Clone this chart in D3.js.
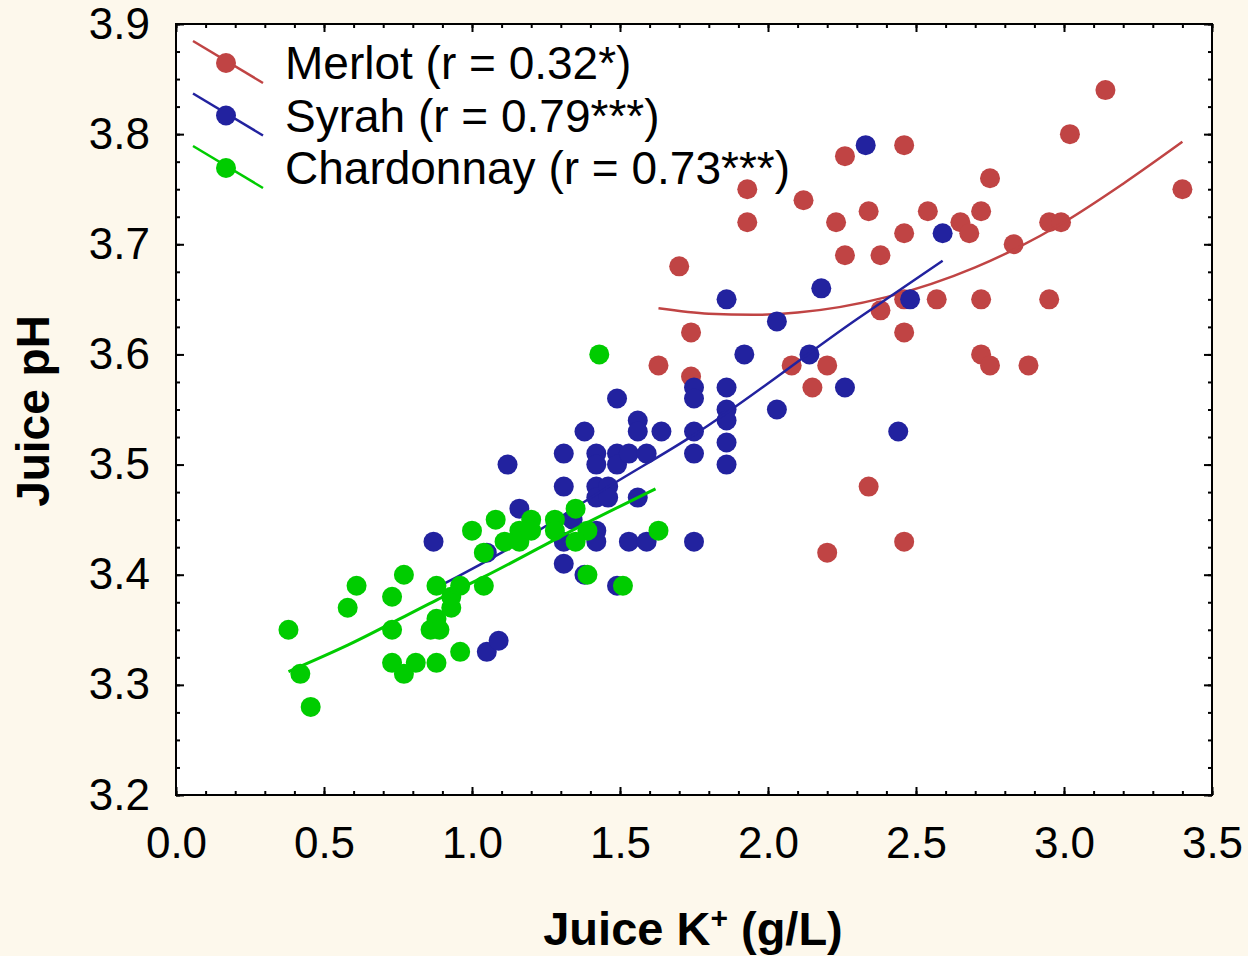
<!DOCTYPE html>
<html>
<head>
<meta charset="utf-8">
<script src="https://cdn.jsdelivr.net/npm/d3@7/dist/d3.min.js"></script>
<style>
  html, body { margin: 0; padding: 0; background: #fdf8ec; }
  svg { display: block; }
  text { font-family: "Liberation Sans", Arial, sans-serif; fill: #000; }
</style>
</head>
<body>
<svg id="chart" width="1248" height="956"></svg>
<script>
// ---- Data ----
const merlotK  = [1.63,1.70,1.74,1.74,1.93,1.93,2.08,2.12,2.15,2.20,2.20,2.23,2.26,2.26,2.34,2.34,2.38,2.38,2.46,2.46,2.46,2.46,2.46,2.54,2.57,2.65,2.68,2.72,2.72,2.72,2.75,2.75,2.83,2.88,2.95,2.99,2.95,3.02,3.14,3.40];
const merlotPH = [3.59,3.68,3.62,3.58,3.75,3.72,3.59,3.74,3.57,3.59,3.42,3.72,3.78,3.69,3.73,3.48,3.69,3.64,3.79,3.71,3.65,3.62,3.43,3.73,3.65,3.72,3.71,3.73,3.65,3.60,3.76,3.59,3.70,3.59,3.72,3.72,3.65,3.80,3.84,3.75];

const syrahK  = [0.87,1.05,1.05,1.09,1.12,1.16,1.31,1.31,1.31,1.31,1.34,1.38,1.38,1.42,1.42,1.42,1.42,1.42,1.42,1.46,1.46,1.49,1.49,1.49,1.49,1.53,1.53,1.56,1.56,1.56,1.59,1.59,1.64,1.75,1.75,1.75,1.75,1.75,1.86,1.86,1.86,1.86,1.86,1.86,1.92,2.03,2.03,2.14,2.18,2.26,2.33,2.44,2.48,2.59];
const syrahPH = [3.43,3.42,3.33,3.34,3.50,3.46,3.51,3.48,3.43,3.41,3.45,3.53,3.40,3.51,3.50,3.48,3.47,3.44,3.43,3.48,3.47,3.56,3.51,3.50,3.39,3.51,3.43,3.54,3.53,3.47,3.51,3.43,3.53,3.57,3.56,3.53,3.51,3.43,3.65,3.57,3.55,3.54,3.52,3.50,3.60,3.63,3.55,3.60,3.66,3.57,3.79,3.53,3.65,3.71];

const chardK  = [0.38,0.42,0.455,0.58,0.61,0.73,0.73,0.73,0.77,0.77,0.81,0.86,0.88,0.88,0.89,0.88,0.93,0.93,0.96,0.96,1.00,1.04,1.04,1.08,1.11,1.16,1.16,1.20,1.20,1.28,1.28,1.35,1.39,1.35,1.43,1.39,1.51,1.63];
const chardPH = [3.35,3.31,3.28,3.37,3.39,3.38,3.35,3.32,3.40,3.31,3.32,3.35,3.39,3.36,3.35,3.32,3.38,3.37,3.39,3.33,3.44,3.39,3.42,3.45,3.43,3.44,3.43,3.45,3.44,3.45,3.44,3.46,3.44,3.43,3.60,3.40,3.39,3.44];

// fitted curves
const merlotFitK  = [1.63,1.80,1.95,2.10,2.40,2.70,3.00,3.20,3.40];
const merlotFitPH = [3.642,3.637,3.636,3.638,3.652,3.679,3.720,3.755,3.793];
const syrahFitK   = [0.87,0.95,1.10,1.48,1.75,2.30,2.59];
const syrahFitPH  = [3.387,3.398,3.420,3.483,3.527,3.632,3.685];
const chardFitK   = [0.38,0.58,0.88,1.04,1.38,1.62];
const chardFitPH  = [3.312,3.336,3.377,3.398,3.446,3.478];

const seriesNames = ["Merlot (r = 0.32*)", "Syrah (r = 0.79***)", "Chardonnay (r = 0.73***)"];
const seriesColors = ["#c04444", "#22229f", "#00cc00"];

const xMajor = [0, 0.5, 1.0, 1.5, 2.0, 2.5, 3.0, 3.5];
const yMajor = [3.2, 3.3, 3.4, 3.5, 3.6, 3.7, 3.8, 3.9];

// ---- Layout ----
const svg = d3.select("#chart");
const L = 176, R = 1212, T = 24, B = 795;
const x = d3.scaleLinear().domain([0, 3.5]).range([L, R]);
const y = d3.scaleLinear().domain([3.2, 3.9]).range([B, T]);

svg.append("rect").attr("x", L).attr("y", T).attr("width", R - L).attr("height", B - T).attr("fill", "#fff");

const series = [
  {k: merlotK, ph: merlotPH, fk: merlotFitK, fph: merlotFitPH},
  {k: syrahK, ph: syrahPH, fk: syrahFitK, fph: syrahFitPH},
  {k: chardK, ph: chardPH, fk: chardFitK, fph: chardFitPH}
];

const line = d3.line().x(d => x(d[0])).y(d => y(d[1])).curve(d3.curveMonotoneX);
const plot = svg.append("g");
series.forEach((s, i) => {
  const pts = s.k.map((v, j) => [v, s.ph[j]]);
  plot.append("g").selectAll("circle").data(pts).join("circle")
    .attr("cx", d => x(d[0])).attr("cy", d => y(d[1])).attr("r", 10)
    .attr("fill", seriesColors[i]);
  const fit = s.fk.map((v, j) => [v, s.fph[j]]);
  plot.append("path").datum(fit).attr("d", line)
    .attr("fill", "none").attr("stroke", seriesColors[i]).attr("stroke-width", i === 2 ? 3 : 2.5);
});

// ---- Axes ----
const xMinor = d3.range(0, 36).map(i => i / 10);
const yMinor = d3.range(0, 29).map(i => 3.2 + i * 0.025);

function styleAxis(g) {
  g.select(".domain").remove();
  g.selectAll(".tick line").attr("stroke", "#000").attr("stroke-width", 2);
}
// minor ticks on all sides
svg.append("g").attr("transform", `translate(0,${B})`).call(d3.axisBottom(x).tickValues(xMinor).tickSize(-4).tickFormat("")).call(styleAxis);
svg.append("g").attr("transform", `translate(0,${T})`).call(d3.axisTop(x).tickValues(xMinor).tickSize(-4).tickFormat("")).call(styleAxis);
svg.append("g").attr("transform", `translate(${L},0)`).call(d3.axisLeft(y).tickValues(yMinor).tickSize(-4).tickFormat("")).call(styleAxis);
svg.append("g").attr("transform", `translate(${R},0)`).call(d3.axisRight(y).tickValues(yMinor).tickSize(-4).tickFormat("")).call(styleAxis);
// major ticks
const xb = svg.append("g").attr("transform", `translate(0,${B})`)
  .call(d3.axisBottom(x).tickValues(xMajor).tickSize(-8).tickPadding(32).tickFormat(d3.format(".1f"))).call(styleAxis);
xb.selectAll("text").attr("font-size", 44);
svg.append("g").attr("transform", `translate(0,${T})`).call(d3.axisTop(x).tickValues(xMajor).tickSize(-8).tickFormat("")).call(styleAxis);
const yl = svg.append("g").attr("transform", `translate(${L},0)`)
  .call(d3.axisLeft(y).tickValues(yMajor).tickSize(-8).tickPadding(26).tickFormat(d3.format(".1f"))).call(styleAxis);
yl.selectAll("text").attr("font-size", 44);
svg.append("g").attr("transform", `translate(${R},0)`).call(d3.axisRight(y).tickValues(yMajor).tickSize(-8).tickFormat("")).call(styleAxis);
svg.selectAll(".tick text").attr("font-family", "Liberation Sans, Arial, sans-serif").attr("fill", "#000");

// frame
svg.append("rect").attr("x", L).attr("y", T).attr("width", R - L).attr("height", B - T)
  .attr("fill", "none").attr("stroke", "#000").attr("stroke-width", 2);

// ---- Legend ----
const leg = svg.append("g");
seriesNames.forEach((name, i) => {
  const cy = 63 + i * 52.5;
  leg.append("line").attr("x1", 193).attr("y1", cy - 22).attr("x2", 263).attr("y2", cy + 20)
    .attr("stroke", seriesColors[i]).attr("stroke-width", 2.5);
  leg.append("circle").attr("cx", 226).attr("cy", cy).attr("r", 10).attr("fill", seriesColors[i]);
  leg.append("text").attr("x", 285).attr("y", cy + 16).attr("font-size", 46).text(name);
});

// ---- Axis titles ----
svg.append("text").attr("transform", "translate(49,411) rotate(-90)")
  .attr("text-anchor", "middle").attr("font-size", 46).attr("font-weight", "bold").text("Juice pH");
const xt = svg.append("text").attr("x", 693).attr("y", 945).attr("text-anchor", "middle")
  .attr("font-size", 47).attr("font-weight", "bold");
xt.append("tspan").text("Juice K");
xt.append("tspan").attr("font-size", 30).attr("dy", -17).text("+");
xt.append("tspan").attr("dy", 17).text(" (g/L)");
</script>
</body>
</html>
